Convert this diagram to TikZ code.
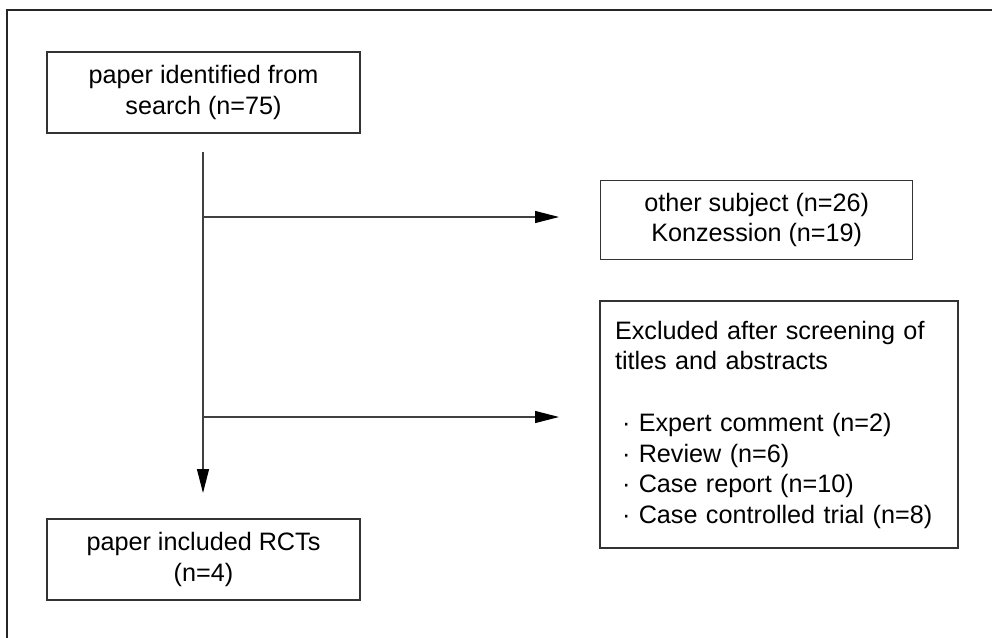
\documentclass[tikz,border=0pt]{standalone}
\usepackage{fontspec}
\setmainfont{Liberation Sans}
\usetikzlibrary{arrows.meta,positioning}

\begin{document}
\begin{tikzpicture}[x=0.5pt,y=-0.5pt,
  flowbox/.style={draw=black!80, line width=0.6pt, minimum width=156.5pt, minimum height=40.5pt, align=center, font=\fontsize{12.6}{15.9}\selectfont},
  flowline/.style={draw=black!75, line width=0.6pt},
  flowarrow/.style={flowline, -{Triangle[length=12pt,width=6pt,color=black,fill=black]}}]

  \useasboundingbox (0,0) rectangle (992,638);
  \draw [black!85, line width=0.9pt] (7,645) -- (7,10) -- (1000,10);

  \node [flowbox] (search) at (203.5,92.5) {paper identified from\\search (n=75)};
  \node [flowbox] (included) at (203.5,559.5) {paper included RCTs\\(n=4)};

  %%

  \node [flowbox, minimum width=156pt, minimum height=39.5pt, font=\fontsize{12.6}{15}\selectfont] (other) at (756.7,219.7) {other subject (n=26)\\Konzession (n=19)};

  \node [flowbox, minimum width=179pt, minimum height=123.5pt, text width=164pt, align=left, font=\fontsize{12.6}{15.2}\selectfont] (excluded) at (779,424.5) {Excluded after screening of\\titles and abstracts\\[16pt]
    \hspace*{3.5pt}·\ Expert comment (n=2)\\
    \hspace*{3.5pt}·\ Review (n=6)\\
    \hspace*{3.5pt}·\ Case report (n=10)\\
    \hspace*{3.5pt}·\ Case controlled trial (n=8)};

  %%

  \coordinate (start) at (203,152);
  \coordinate (stop) at (203,493);
  \draw [flowarrow] (start) -- (stop);

  \coordinate (fork1) at (203,217);
  \coordinate (tip1) at (559,217);
  \draw [flowarrow] (fork1) -- (tip1);

  \coordinate (fork2) at (203,417);
  \coordinate (tip2) at (559,417);
  \draw [flowarrow] (fork2) -- (tip2);

\end{tikzpicture}
\end{document}
